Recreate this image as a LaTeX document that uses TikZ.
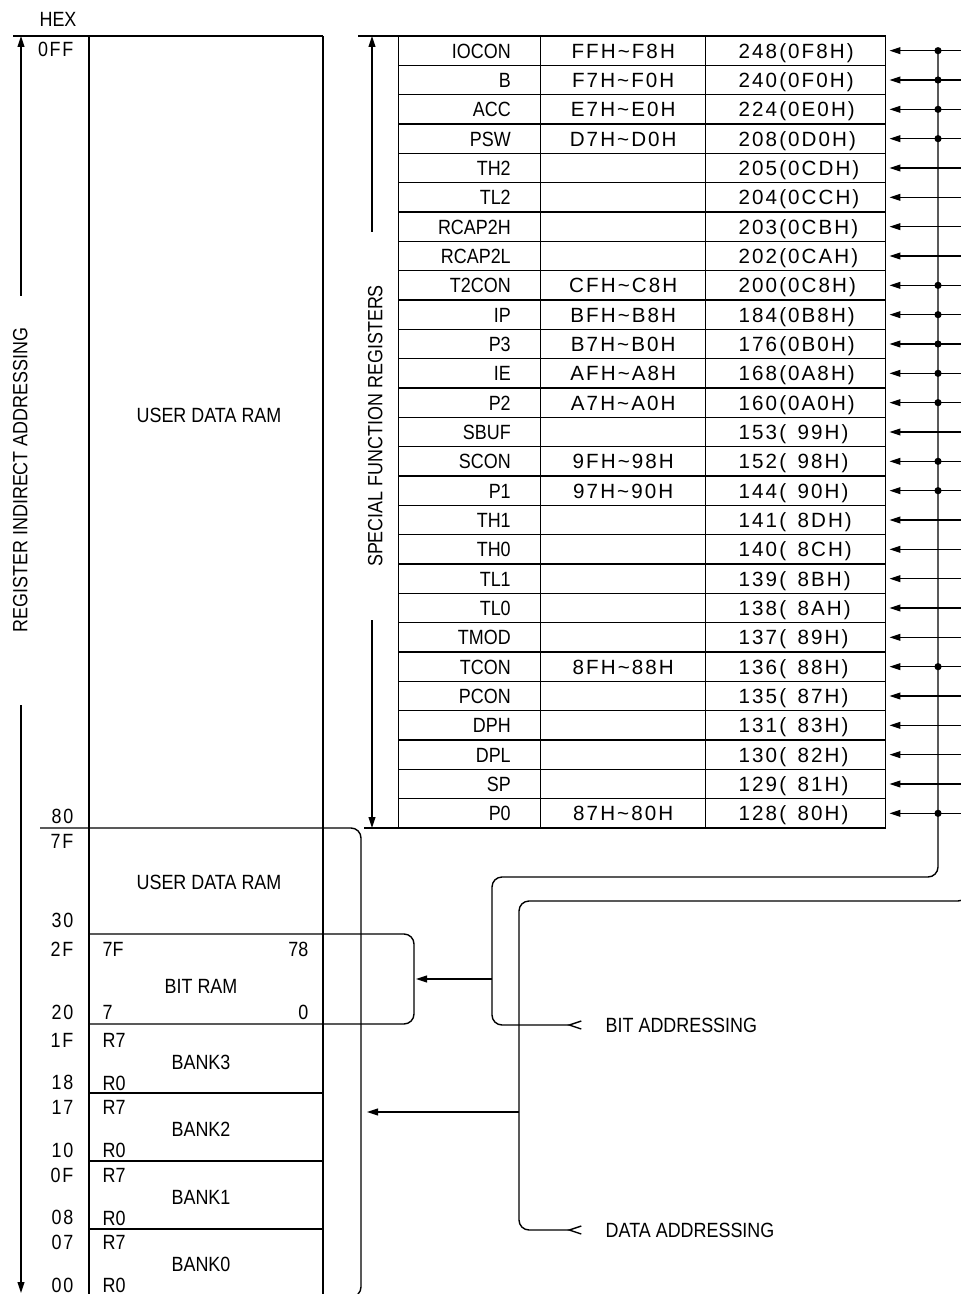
\documentclass[tikz,border=0pt]{standalone}
\usepackage{fontspec}
\setmainfont{Liberation Sans}[FakeStretch=0.87]
\newfontfamily\hexfont{Liberation Sans}[LetterSpace=10]
\newfontfamily\hexlblfont{Liberation Sans}[FakeStretch=0.87,LetterSpace=8]
\usetikzlibrary{calc, arrows.meta, positioning}

\newcommand{\basefont}{\fontsize{10.3}{12.4}\selectfont}
\newcommand{\sftilde}{\textasciitilde}

\tikzset{
    sfrcell/.style={draw, line width=0.7pt, anchor=west, minimum height=14.667pt,
        inner ysep=0pt, text height=7.4pt, text depth=0pt},
    memtext/.style={inner sep=0pt, text height=7.4pt, text depth=0pt},
    hexlabel/.style={memtext, anchor=east, font=\basefont\hexlblfont},
    tapdot/.style={circle, fill, inner sep=0pt, minimum size=3.6pt},
    addrtail/.style={{Straight Barb[reversed,length=6pt,width=4pt]}-, rounded corners=5pt},
}

\begin{document}
\begin{tikzpicture}[x=0.5pt, y=-0.5pt, line width=0.7pt,
        >={Triangle[length=5.5pt,width=3.4pt]}, font=\basefont]
        \useasboundingbox (0,0) rectangle (960,1294);

        % define memory column
        \coordinate (RAM_TLC) at (89,36);
        \coordinate (RAM_TRC) at (323,36);

        % draw memory column
        \draw (13,36) -- (RAM_TRC);
        \draw (RAM_TLC) -- ++(0,1264);
        \draw (RAM_TRC) -- ++(0,1264);
        \draw[rounded corners=5pt] (40,828) -- (361,828) -- (361,1297) -- (330,1297);
        \draw[rounded corners=5pt] (89,934) -- (414,934) -- (414,1024) -- (89,1024);
        \draw (89,1093) -- (323,1093);
        \draw (89,1161) -- (323,1161);
        \draw (89,1229) -- (323,1229);

        \node[memtext] (hex_title) at (58,19) {HEX};
        \foreach \hx/\yy in {0FF/49, 80/816, 7F/841, 30/920, 2F/949, 20/1012,
            1F/1040, 18/1082, 17/1107, 10/1150, 0F/1175, 08/1217, 07/1242, 00/1285}
            \node[hexlabel] (hex-\hx) at (74,\yy) {\hx};

        \node[memtext] (upper_ram) at (209,415) {USER DATA RAM};
        \node[memtext] (lower_ram) at (209,882) {USER DATA RAM};

        % bit ram
        \node[memtext] (bit_ram) at (201,986) {BIT RAM};
        \node[memtext, anchor=west] (bit_7F) at (102,949) {7F};
        \node[memtext, anchor=east] (bit_78) at (309,949) {78};
        \node[memtext, anchor=west] (bit_7) at (102,1012) {7};
        \node[memtext, anchor=east] (bit_0) at (309,1012) {0};

        % register banks
        \foreach \b/\yy in {3/1040, 2/1107, 1/1175, 0/1242} {
            \node[memtext, anchor=west] (bank\b_R7) at (102,\yy) {R7};
            \node[memtext, anchor=west] (bank\b_R0) at (102,\yy+43) {R0};
            \node[memtext] (bank\b) at (201,\yy+22) {BANK\b};
        }

        % indirect addressing arrow
        \node[memtext, rotate=90] (indirect_lbl) at (20,480) {REGISTER INDIRECT ADDRESSING};
        \coordinate (Indirect_top) at (21,296);
        \coordinate (Indirect_bot) at (21,705);
        \draw[->] (Indirect_top) -- (21,36);
        \draw[->] (Indirect_bot) -- (21,1293);

        % special function registers
        \draw (358,36) -- (398,36);
        \draw (364,828) -- (398,828);
        \node[memtext, rotate=90] (sfr_lbl) at (375,426) {SPECIAL FUNCTION REGISTERS};
        \draw[->] (372,232) -- (372,36);
        \draw[->] (372,620) -- (372,828);

        % define bus
        \coordinate (Bus_top) at (938,50.67);
        \coordinate (Data_top) at (968,50.67);

        \foreach \name/\bits/\addr/\tap [count=\i] in {
            IOCON/FFH\sftilde F8H/248(0F8H)/1, B/F7H\sftilde F0H/240(0F0H)/1,
            ACC/E7H\sftilde E0H/224(0E0H)/1, PSW/D7H\sftilde D0H/208(0D0H)/1,
            TH2//205(0CDH)/0, TL2//204(0CCH)/0, RCAP2H//203(0CBH)/0, RCAP2L//202(0CAH)/0,
            T2CON/CFH\sftilde C8H/200(0C8H)/1, IP/BFH\sftilde B8H/184(0B8H)/1,
            P3/B7H\sftilde B0H/176(0B0H)/1, IE/AFH\sftilde A8H/168(0A8H)/1,
            P2/A7H\sftilde A0H/160(0A0H)/1, SBUF//153(\phantom{0}99H)/0,
            SCON/9FH\sftilde 98H/152(\phantom{0}98H)/1, P1/97H\sftilde 90H/144(\phantom{0}90H)/1,
            TH1//141(\phantom{0}8DH)/0, TH0//140(\phantom{0}8CH)/0,
            TL1//139(\phantom{0}8BH)/0, TL0//138(\phantom{0}8AH)/0,
            TMOD//137(\phantom{0}89H)/0, TCON/8FH\sftilde 88H/136(\phantom{0}88H)/1,
            PCON//135(\phantom{0}87H)/0, DPH//131(\phantom{0}83H)/0,
            DPL//130(\phantom{0}82H)/0, SP//129(\phantom{0}81H)/0,
            P0/87H\sftilde 80H/128(\phantom{0}80H)/1} {
            \pgfmathsetmacro\yy{21.333+29.333*\i}
            \node[sfrcell, text width=41pt, inner xsep=15pt, align=right] (sfr-\i) at (398,\yy) {\name};
            \node[sfrcell, minimum width=82.5pt, font=\basefont\hexfont] (bits-\i) at (540,\yy) {\bits};
            \node[sfrcell, text width=57pt, inner xsep=16.5pt, align=left, font=\basefont\hexfont] (byte-\i) at (705,\yy) {\addr};
            \draw[->, shorten >=1.5pt] (968,\yy) -- (byte-\i.east);
            \ifnum\tap=1 \node[tapdot] (tap-\i) at (938,\yy) {}; \fi
        }

        % addressing modes
        \node[memtext, anchor=west] (bitaddr_lbl) at (605,1025) {BIT ADDRESSING};
        \node[memtext, anchor=west] (dataaddr_lbl) at (605,1230) {DATA ADDRESSING};
        \coordinate (BitRAM_side) at (414,979);
        \coordinate (Bank_side) at (361,1112);

        \draw[addrtail] ([xshift=-11.5pt]bitaddr_lbl.west) -| (492,877) -| (Bus_top);
        \draw[addrtail] ([xshift=-11.5pt]dataaddr_lbl.west) -| (519,901) -| (Data_top);
        \draw[->, shorten >=1pt] (492,979) -- (BitRAM_side);
        \draw[->, shorten >=3pt] (519,1112) -- (Bank_side);
\end{tikzpicture}
\end{document}
